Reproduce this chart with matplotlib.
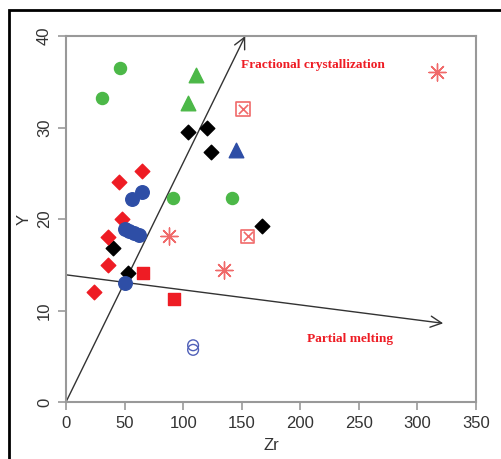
import matplotlib.pyplot as plt
from matplotlib.patches import Rectangle

# Data (Zr vs Y)
green_circ_x = [46, 31, 91, 142]
green_circ_y = [36.5, 33.2, 22.3, 22.3]
green_tri_x = [111, 104]
green_tri_y = [35.7, 32.7]
blue_tri_x = [145]
blue_tri_y = [27.5]
black_dia_x = [104, 120, 124, 167, 40, 53]
black_dia_y = [29.5, 29.9, 27.3, 19.2, 16.8, 14.1]
red_dia_x = [45, 65, 48, 36, 36, 24]
red_dia_y = [24.0, 25.2, 20.0, 18.0, 15.0, 12.0]
blue_circ_x = [56, 65, 50, 54, 58, 62, 50]
blue_circ_y = [22.2, 23.0, 18.9, 18.7, 18.5, 18.3, 13.0]
red_sq_x = [66, 92]
red_sq_y = [14.1, 11.3]
red_xsq_x = [151, 155]
red_xsq_y = [32.0, 18.1]
red_ast_x = [88, 135, 317]
red_ast_y = [18.1, 14.4, 36.1]
blue_open_x = [108.5, 108.5]
blue_open_y = [5.7, 6.2]

# trend arrows (start, end)
fc_line = [(0, 0), (153, 40)]
pm_line = [(0, 13.9), (322, 8.6)]

green = '#4cb848'
blue = '#2e4ea6'
red = '#ee1c24'
pink = '#f06a6a'

fig = plt.figure(figsize=(5.01, 4.59), dpi=100)
ax = fig.add_axes([66 / 501, 57 / 459, 410 / 501, 366 / 459])

ax.scatter(green_circ_x, green_circ_y, s=75, color=green, marker='o', zorder=3)
ax.scatter(green_tri_x, green_tri_y, s=110, color=green, marker='^', zorder=3)
ax.scatter(blue_tri_x, blue_tri_y, s=110, color=blue, marker='^', zorder=3)
ax.scatter(black_dia_x, black_dia_y, s=55, color='black', marker='D', zorder=3)
ax.scatter(red_dia_x, red_dia_y, s=55, color=red, marker='D', zorder=3)
ax.scatter(blue_circ_x, blue_circ_y, s=95, color=blue, marker='o', zorder=3)
ax.scatter(red_sq_x, red_sq_y, s=85, color=red, marker='s', zorder=3)
ax.scatter(red_xsq_x, red_xsq_y, s=95, facecolors='none', edgecolors=pink,
           marker='s', linewidths=1.2, zorder=3)
ax.scatter(red_xsq_x, red_xsq_y, s=45, color=pink, marker='x',
           linewidths=1.2, zorder=3)
ax.scatter(red_ast_x, red_ast_y, s=150, color=pink, marker=(8, 2, 0),
           linewidths=1.0, zorder=3)
ax.scatter(blue_open_x, blue_open_y, s=60, facecolors='none', edgecolors='#5060b8',
           marker='o', linewidths=1.0, zorder=3)

# arrows
for (x0, y0), (x1, y1) in [fc_line, pm_line]:
    ax.annotate('', xy=(x1, y1), xytext=(x0, y0),
                arrowprops=dict(arrowstyle='->', color='#333333', lw=1.0,
                                mutation_scale=20, shrinkA=0, shrinkB=0),
                annotation_clip=False, zorder=2)

ax.text(149, 36.8, 'Fractional crystallization', color=red, fontsize=9.6,
        fontweight='bold', family='Liberation Serif', va='center')
ax.text(206, 6.9, 'Partial melting', color=red, fontsize=9.6,
        fontweight='bold', family='Liberation Serif', va='center')

ax.set_xlim(0, 350)
ax.set_ylim(0, 40)
ax.set_xticks([0, 50, 100, 150, 200, 250, 300, 350])
ax.set_yticks([0, 10, 20, 30, 40])

for sp in ax.spines.values():
    sp.set_color('#999999')
    sp.set_linewidth(1.5)
ax.tick_params(direction='out', length=6, width=1.2, color='#999999',
               labelsize=12, labelcolor='#333333', pad=4)
for lab in ax.get_yticklabels():
    lab.set_rotation(90)
    lab.set_va('center')
for lab in ax.get_xticklabels() + ax.get_yticklabels():
    lab.set_family('Liberation Sans')

ax.set_xlabel('Zr', fontsize=12, color='#333333', family='Liberation Sans', labelpad=5)
ax.set_ylabel('Y', fontsize=12, color='#333333', family='Liberation Sans', labelpad=4)

# outer frame of the figure (only left and top edges are visible)
fig.patches.append(Rectangle((9 / 501, -0.1), 1.2, (449 / 459) + 0.1,
                             transform=fig.transFigure, fill=False,
                             edgecolor='black', linewidth=2, clip_on=False))

fig.savefig('out.png', dpi=100)
